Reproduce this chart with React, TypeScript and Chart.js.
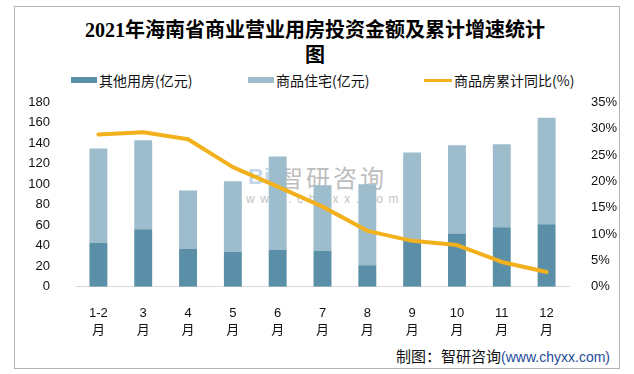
import React, { useEffect, useRef } from "react";
import { Chart, registerables } from "chart.js";

Chart.register(...registerables);

// ---- data ----
const months: string[] = ["1-2", "3", "4", "5", "6", "7", "8", "9", "10", "11", "12"];
const otherValues: number[] = [43, 56, 37, 34, 36, 35, 21, 45, 52, 58, 61];
const residentialValues: number[] = [92, 87, 57, 69, 91, 64, 79, 86, 86, 81, 104];
const growthValues: number[] = [28.9, 29.3, 28.0, 22.7, 19.0, 15.2, 10.6, 8.7, 7.9, 4.7, 2.8];
const leftTicks = { min: 0, max: 180, step: 20 };
const rightTicks = { min: 0, max: 35, step: 5 };
const seriesNames: string[] = ["其他用房(亿元)", "商品住宅(亿元)", "商品房累计同比(%)"];
const titleLines: string[] = ["2021年海南省商业营业用房投资金额及累计增速统计", "图"];

const COLORS = ["#5b8fa8", "#9dbdcc", "#f2b11c"];
const TICK_FONT = "'Liberation Sans', 'Noto Sans CJK SC', sans-serif";
const CJK_FONT = "'Noto Sans CJK SC', 'Liberation Sans', sans-serif";

export default function App() {
  const ref = useRef<HTMLCanvasElement>(null);

  useEffect(() => {
    if (!ref.current) return;
    const chart = new Chart(ref.current, {
      type: "bar",
      data: {
        labels: months.map((m) => [m, "月"]),
        datasets: [
          {
            type: "bar",
            label: seriesNames[0],
            data: otherValues,
            backgroundColor: COLORS[0],
            yAxisID: "y",
            stack: "s",
            barPercentage: 0.4,
            categoryPercentage: 1,
            order: 2,
          },
          {
            type: "bar",
            label: seriesNames[1],
            data: residentialValues,
            backgroundColor: COLORS[1],
            yAxisID: "y",
            stack: "s",
            barPercentage: 0.4,
            categoryPercentage: 1,
            order: 2,
          },
          {
            type: "line",
            label: seriesNames[2],
            data: growthValues,
            borderColor: COLORS[2],
            backgroundColor: COLORS[2],
            borderWidth: 4,
            pointRadius: 0,
            tension: 0,
            borderJoinStyle: "round",
            borderCapStyle: "round",
            yAxisID: "y1",
            order: 0,
          } as any,
        ],
      },
      options: {
        responsive: false,
        maintainAspectRatio: false,
        animation: false,
        devicePixelRatio: 1,
        layout: { padding: { top: 12.3, left: 0, right: 0, bottom: 0 } },
        plugins: {
          legend: { display: false },
          title: { display: false },
          tooltip: { enabled: false },
        },
        scales: {
          x: {
            stacked: true,
            grid: { display: false },
            border: { display: true, color: "#d9d9d9", width: 1 },
            ticks: {
              color: "#111",
              font: { family: TICK_FONT, size: 13, lineHeight: 1.3 },
              padding: 10,
              maxRotation: 0,
              autoSkip: false,
            },
            afterFit: (s: any) => {
              s.height = 53.3;
            },
          },
          y: {
            position: "left",
            stacked: true,
            min: leftTicks.min,
            max: leftTicks.max,
            grid: { display: false },
            border: { display: false },
            ticks: {
              stepSize: leftTicks.step,
              color: "#111",
              font: { family: TICK_FONT, size: 13 },
              padding: 18,
            },
            afterFit: (s: any) => {
              s.width = 76;
              s.paddingTop = 0;
              s.paddingBottom = 0;
            },
          },
          y1: {
            position: "right",
            min: rightTicks.min,
            max: rightTicks.max,
            grid: { display: false },
            border: { display: false },
            ticks: {
              stepSize: rightTicks.step,
              color: "#111",
              font: { family: TICK_FONT, size: 13 },
              padding: 14,
              callback: (v: any) => `${v}%`,
            },
            afterFit: (s: any) => {
              s.width = 65;
              s.paddingTop = 0;
              s.paddingBottom = 0;
            },
          },
        },
      },
    });
    return () => chart.destroy();
  }, []);

  const legendLeft = [71, 248, 424];

  return (
    <div
      style={{
        position: "fixed",
        left: 0,
        top: 0,
        width: 634,
        height: 374,
        background: "#fff",
        overflow: "hidden",
      }}
    >
      {/* outer frame */}
      <div
        style={{
          position: "absolute",
          left: 14,
          top: 6,
          width: 604,
          height: 361,
          border: "1px solid #b3b3b3",
        }}
      />
      {/* title */}
      {titleLines.map((t, i) => (
        <div
          key={i}
          style={{
            position: "absolute",
            left: 0,
            width: 630,
            top: i === 0 ? 17 : 42,
            height: 26,
            lineHeight: "26px",
            textAlign: "center",
            fontFamily: "'Liberation Serif', 'Noto Sans CJK SC', serif",
            fontWeight: 700,
            fontSize: 20,
            color: "#000",
            whiteSpace: "nowrap",
          }}
        >
          {t}
        </div>
      ))}
      {/* legend */}
      {seriesNames.map((name, i) => (
        <div
          key={name}
          style={{
            position: "absolute",
            left: legendLeft[i],
            top: 70,
            height: 20,
            display: "flex",
            alignItems: "center",
            whiteSpace: "nowrap",
          }}
        >
          <span
            style={{
              display: "inline-block",
              width: i === 2 ? 28 : 26,
              height: i === 2 ? 3 : 6,
              background: COLORS[i],
              marginRight: 2,
            }}
          />
          <span style={{ fontFamily: CJK_FONT, fontSize: 14, color: "#111" }}>{name}</span>
        </div>
      ))}
      {/* watermark (under the chart) */}
      <div
        style={{
          position: "absolute",
          left: 248,
          top: 163,
          height: 28,
          lineHeight: "28px",
          fontFamily: "'Liberation Sans', sans-serif",
          fontWeight: 700,
          fontSize: 22,
          color: "#c3d6ea",
          whiteSpace: "nowrap",
        }}
      >
        Bi
      </div>
      <div
        style={{
          position: "absolute",
          left: 279,
          top: 162,
          height: 30,
          lineHeight: "30px",
          fontFamily: CJK_FONT,
          fontSize: 24,
          letterSpacing: 3,
          color: "#bdbdbd",
          whiteSpace: "nowrap",
        }}
      >
        智研咨询
      </div>
      <div
        style={{
          position: "absolute",
          left: 246,
          top: 192,
          fontFamily: "'Liberation Sans', sans-serif",
          fontSize: 12,
          letterSpacing: 5.6,
          color: "#c4c4c4",
          whiteSpace: "nowrap",
        }}
      >
        www.chyxx.com
      </div>
      {/* chart */}
      <canvas
        ref={ref}
        width={634}
        height={250}
        style={{ position: "absolute", left: 0, top: 90, width: 634, height: 250 }}
      />
      {/* footer */}
      <div
        style={{
          position: "absolute",
          right: 24,
          top: 345,
          height: 22,
          lineHeight: "22px",
          whiteSpace: "nowrap",
        }}
      >
        <span style={{ fontFamily: CJK_FONT, fontSize: 15, color: "#111" }}>制图：智研咨询</span>
        <span style={{ fontFamily: "'Liberation Sans', sans-serif", fontSize: 14, color: "#1f4b99" }}>
          (www.chyxx.com)
        </span>
      </div>
    </div>
  );
}
